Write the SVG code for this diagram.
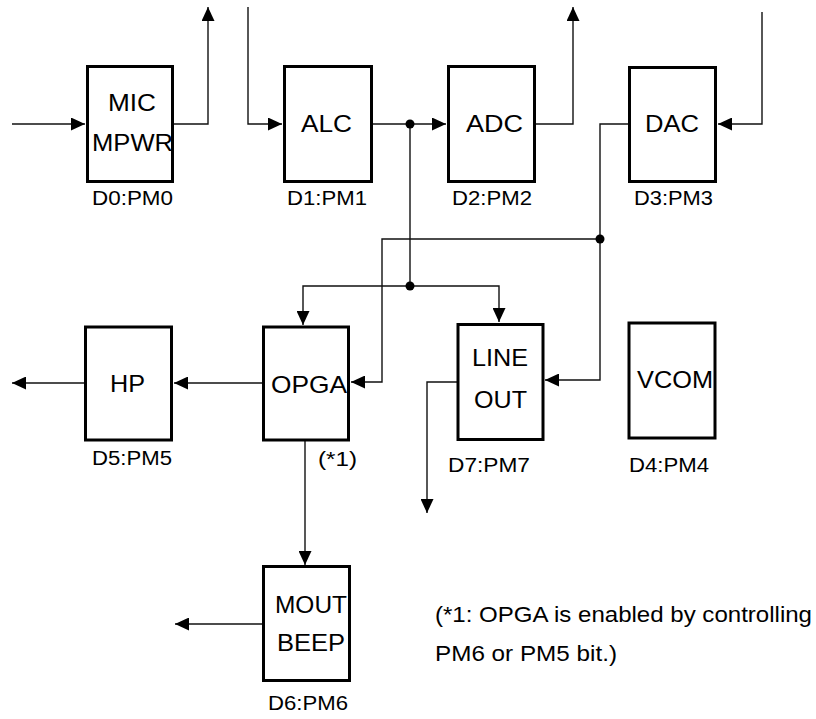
<svg xmlns="http://www.w3.org/2000/svg" width="816" height="719" viewBox="0 0 816 719">
<defs>
<marker id="arr" markerUnits="userSpaceOnUse" markerWidth="14" markerHeight="13" viewBox="0 0 14 13" refX="14" refY="6.5" orient="auto">
<path d="M0,0 L14,6.5 L0,13 z" fill="#000"/>
</marker>
</defs>
<style>
.box{fill:#fff;stroke:#000;stroke-width:3}
.bt{font-family:"Liberation Sans",Arial,sans-serif;font-size:24px;fill:#000}
.lb{font-family:"Liberation Sans",Arial,sans-serif;font-size:20px;fill:#000}
.nt{font-family:"Liberation Sans",Arial,sans-serif;font-size:21.5px;fill:#000}
.ln{fill:none;stroke:#111;stroke-width:1.4}
.ar{marker-end:url(#arr)}
.dot{fill:#000}
</style>
<rect width="816" height="719" fill="#fff"/>
<g id="connectors">
<path class="ln ar" d="M12,124 H85"/>
<path class="ln ar" d="M174,124 H208 V7"/>
<path class="ln ar" d="M248,7 V124 H282"/>
<path class="ln ar" d="M373,124 H446"/>
<path class="ln ar" d="M536,124 H573 V7"/>
<path class="ln ar" d="M762,12 V124 H718"/>
<path class="ln" d="M410,124 V286"/>
<path class="ln ar" d="M410,286 H303 V325"/>
<path class="ln ar" d="M410,286 H499 V322"/>
<path class="ln ar" d="M628,124 H600 V380 H545"/>
<path class="ln ar" d="M600,239 H382 V382 H351"/>
<path class="ln ar" d="M262,383 H174"/>
<path class="ln ar" d="M84,383 H12"/>
<path class="ln ar" d="M457,382 H427 V513"/>
<path class="ln ar" d="M305,441 V565"/>
<path class="ln ar" d="M262,624 H175"/>
<circle class="dot" cx="410" cy="124" r="4.5"/>
<circle class="dot" cx="410" cy="286" r="4.5"/>
<circle class="dot" cx="600" cy="239" r="4.5"/>
</g>
<g id="mic">
<rect class="box" x="87.5" y="66.5" width="85" height="115"/>
<text class="bt" x="108" y="111" textLength="48" lengthAdjust="spacingAndGlyphs">MIC</text>
<text class="bt" x="92" y="151" textLength="81" lengthAdjust="spacingAndGlyphs">MPWR</text>
<text class="lb" x="92" y="205" textLength="81" lengthAdjust="spacingAndGlyphs">D0:PM0</text>
</g>
<g id="alc">
<rect class="box" x="284.5" y="66.5" width="87" height="115"/>
<text class="bt" x="301" y="132" textLength="51" lengthAdjust="spacingAndGlyphs">ALC</text>
<text class="lb" x="287" y="205" textLength="80" lengthAdjust="spacingAndGlyphs">D1:PM1</text>
</g>
<g id="adc">
<rect class="box" x="448.5" y="66.5" width="86" height="115"/>
<text class="bt" x="466" y="132" textLength="57" lengthAdjust="spacingAndGlyphs">ADC</text>
<text class="lb" x="452" y="205" textLength="80" lengthAdjust="spacingAndGlyphs">D2:PM2</text>
</g>
<g id="dac">
<rect class="box" x="629.5" y="67.5" width="86" height="114"/>
<text class="bt" x="645" y="132" textLength="54" lengthAdjust="spacingAndGlyphs">DAC</text>
<text class="lb" x="634" y="205" textLength="79" lengthAdjust="spacingAndGlyphs">D3:PM3</text>
</g>
<g id="hp">
<rect class="box" x="85.5" y="327" width="86" height="113"/>
<text class="bt" x="110" y="392" textLength="35" lengthAdjust="spacingAndGlyphs">HP</text>
<text class="lb" x="92" y="465" textLength="80" lengthAdjust="spacingAndGlyphs">D5:PM5</text>
</g>
<g id="opga">
<rect class="box" x="263.5" y="327" width="85" height="113"/>
<text class="bt" x="271" y="393" textLength="76" lengthAdjust="spacingAndGlyphs">OPGA</text>
<text class="lb" x="318" y="466" textLength="39" lengthAdjust="spacingAndGlyphs">(*1)</text>
</g>
<g id="lineout">
<rect class="box" x="458" y="324.5" width="85" height="115"/>
<text class="bt" x="472" y="366" textLength="56" lengthAdjust="spacingAndGlyphs">LINE</text>
<text class="bt" x="474" y="408" textLength="53" lengthAdjust="spacingAndGlyphs">OUT</text>
<text class="lb" x="448" y="472" textLength="82" lengthAdjust="spacingAndGlyphs">D7:PM7</text>
</g>
<g id="vcom">
<rect class="box" x="629" y="323" width="86" height="115"/>
<text class="bt" x="637" y="388" textLength="76" lengthAdjust="spacingAndGlyphs">VCOM</text>
<text class="lb" x="629" y="472" textLength="80" lengthAdjust="spacingAndGlyphs">D4:PM4</text>
</g>
<g id="mout">
<rect class="box" x="263.5" y="566.5" width="86" height="114"/>
<text class="bt" x="275" y="613" textLength="72" lengthAdjust="spacingAndGlyphs">MOUT</text>
<text class="bt" x="277" y="651" textLength="68" lengthAdjust="spacingAndGlyphs">BEEP</text>
<text class="lb" x="268" y="710" textLength="80" lengthAdjust="spacingAndGlyphs">D6:PM6</text>
</g>
<g id="note">
<text class="nt" x="435" y="622" textLength="377" lengthAdjust="spacingAndGlyphs">(*1: OPGA is enabled by controlling</text>
<text class="nt" x="435" y="661" textLength="182" lengthAdjust="spacingAndGlyphs">PM6 or PM5 bit.)</text>
</g>
</svg>
